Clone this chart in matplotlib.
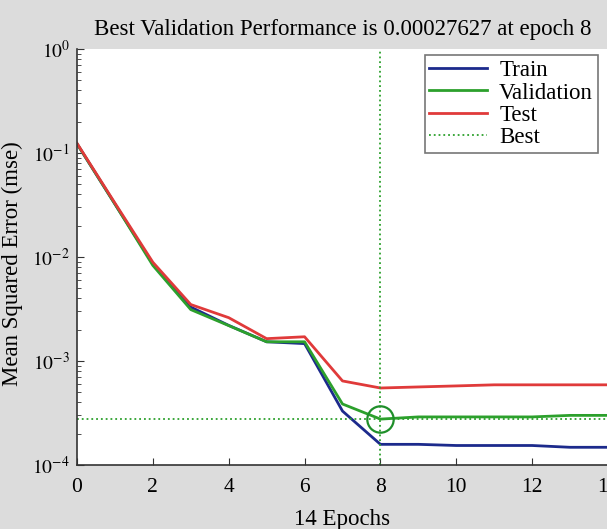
import numpy as np
import matplotlib.pyplot as plt

epochs = np.arange(15)
train = [0.1226, 0.0323, 0.0086, 0.0033, 0.0022, 0.00153, 0.00147, 0.00033,
         0.000158, 0.000158, 0.000154, 0.000154, 0.000154, 0.000148, 0.000148]
validation = [0.1226, 0.0323, 0.0083, 0.00312, 0.00219, 0.00153, 0.00153, 0.000386,
              0.00027627, 0.00029, 0.00029, 0.00029, 0.00029, 0.0003, 0.0003]
test = [0.124, 0.0330, 0.0089, 0.00349, 0.00261, 0.00164, 0.00171, 0.000643,
        0.00055, 0.000563, 0.000576, 0.00059, 0.00059, 0.00059, 0.00059]
best_epoch = 8
best_perf = 0.00027627

plt.rcParams['font.family'] = ['Liberation Serif', 'DejaVu Serif']
plt.rcParams['mathtext.fontset'] = 'stix'

fig = plt.figure(figsize=(6.07, 5.29), dpi=100, facecolor='#dcdcdc')
ax = fig.add_axes([77 / 607, 1 - 465 / 529, 531 / 607, 416 / 529])

ax.plot(epochs, train, color='#1c2a8c', lw=2, label='Train')
ax.plot(epochs, validation, color='#2ca02c', lw=2, label='Validation')
ax.plot(epochs, test, color='#e03a3a', lw=2, label='Test')
ax.axvline(best_epoch, color='#2ca02c', ls=':', lw=1.3, label='Best')
ax.axhline(best_perf, color='#2ca02c', ls=':', lw=1.3)
ax.plot([best_epoch], [best_perf], 'o', mfc='none', mec='#1f8f2a', ms=19, mew=1.6)

ax.set_yscale('log')
ax.set_xlim(0, 14)
ax.set_ylim(1e-4, 1)
ax.set_xticks(range(0, 15, 2))
ax.set_yticks([1e-4, 1e-3, 1e-2, 1e-1, 1])
ax.set_yticklabels(['$10^{-4}$', '$10^{-3}$', '$10^{-2}$', '$10^{-1}$', '$10^{0}$'])
ax.tick_params(direction='in', length=5, color='#333333')
ax.tick_params(axis='x', labelsize=15.5, pad=9)
ax.tick_params(axis='y', labelsize=14, pad=5)
ax.tick_params(which='minor', direction='in', length=3, color='#333333')
for s in ['top', 'right']:
    ax.spines[s].set_visible(False)
for s in ['left', 'bottom']:
    ax.spines[s].set_color('#333333')
    ax.spines[s].set_linewidth(1.2)

ax.set_title('Best Validation Performance is 0.00027627 at epoch 8', fontsize=16.5, pad=10)
ax.set_xlabel('14 Epochs', fontsize=16.5, labelpad=9)
ax.set_ylabel('Mean Squared Error (mse)', fontsize=16.5)
ax.yaxis.set_label_coords(-0.102, 0.483)

leg = ax.legend(loc='upper right', fontsize=16.5,
                frameon=True, fancybox=False, edgecolor='#555555',
                borderpad=0.2, labelspacing=0.06, handlelength=2.5, handletextpad=0.55)
leg.get_frame().set_linewidth(1.2)
# legend box sits just under the top of the axes, like the reference
leg.set_bbox_to_anchor((1.002, 1.012), transform=ax.transAxes)

fig.savefig('out.png', dpi=100, facecolor=fig.get_facecolor())
